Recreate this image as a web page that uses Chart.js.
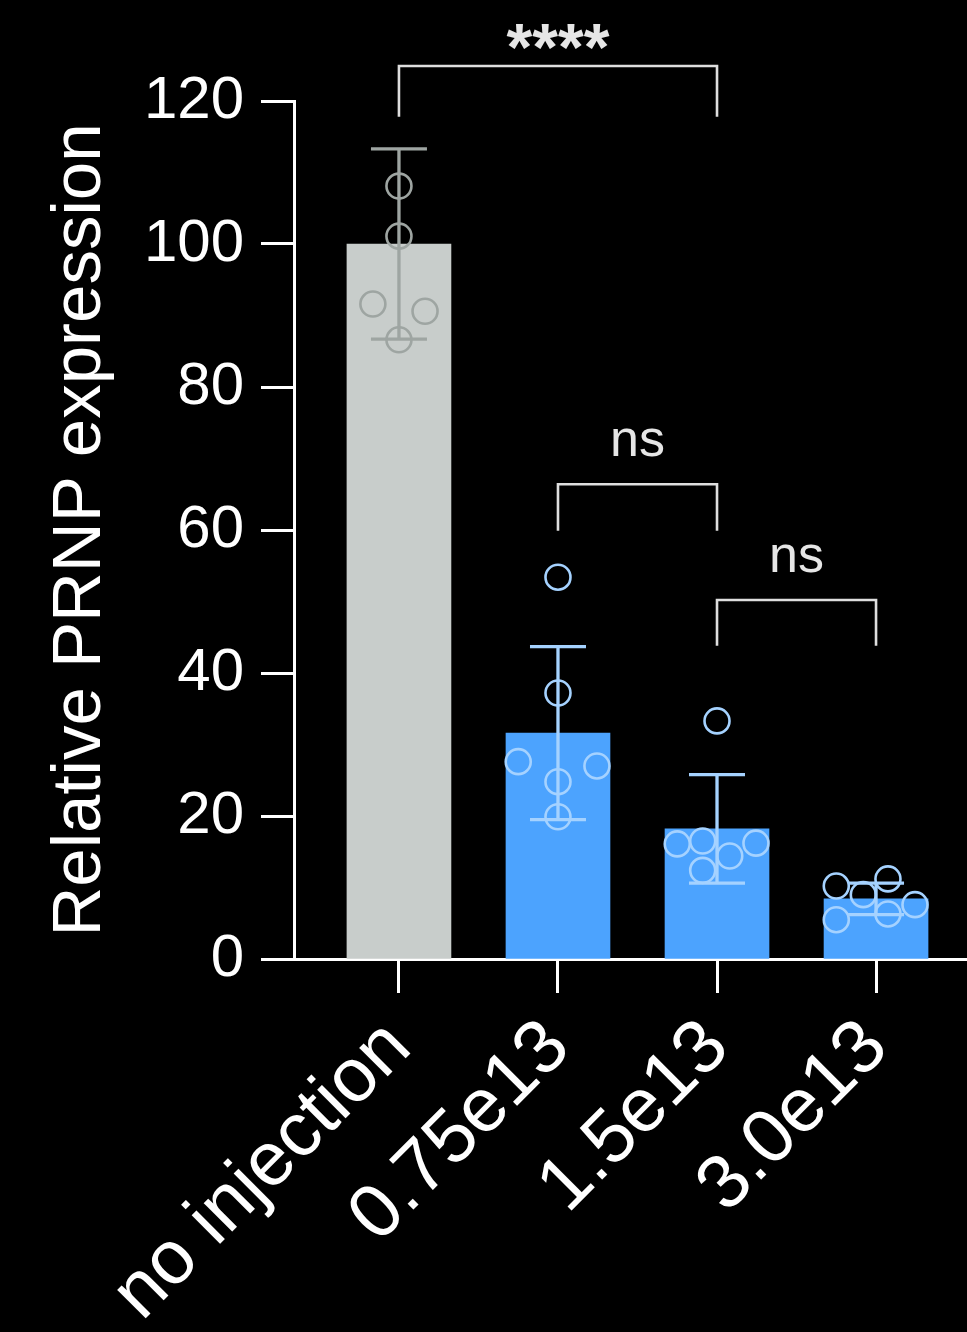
<!DOCTYPE html>
<html>
<head>
<meta charset="utf-8">
<script src="https://cdn.jsdelivr.net/npm/chart.js@4.4.1/dist/chart.umd.min.js"></script>
<style>
  html, body { margin: 0; padding: 0; background: #000; }
  #wrap { width: 967px; height: 1332px; position: relative; }
</style>
</head>
<body>
<div id="wrap"><canvas id="c" width="967" height="1332"></canvas></div>
<script>
// Groups on the x axis
const categories = ['no injection', '0.75e13', '1.5e13', '3.0e13'];

// Group means and standard deviations (relative PRNP expression, %)
const means = [100, 31.6, 18.2, 8.4];
const sds = [13.3, 12.1, 7.6, 2.2];

// Individual replicates per group
const noInjection = [108.1, 101.1, 91.6, 90.6, 86.6];
const dose075 = [53.4, 37.2, 27.6, 27.0, 24.8, 19.9];
const dose15 = [33.3, 16.1, 16.5, 16.2, 14.4, 12.4];
const dose30 = [10.2, 9.0, 11.2, 7.6, 6.3, 5.5];
const replicates = [noInjection, dose075, dose15, dose30];

// Horizontal spread of the replicate dots (fraction of a category step)
const dotSpread = [
  [0, 0, -0.164, 0.164, 0],
  [0, 0, -0.25, 0.245, 0, 0],
  [0, -0.25, -0.09, 0.245, 0.08, -0.09],
  [-0.25, -0.08, 0.075, 0.245, 0.075, -0.25]
];

// Significance comparisons: [from group, to group, label]
const comparisons = [
  [0, 2, '****'],
  [1, 2, 'ns'],
  [2, 3, 'ns']
];
// Bracket heights in axis units: [bar level, leg end, label baseline]
const bracketLevels = [
  [124.9, 117.8, 124.4],
  [66.4, 59.9, 70.3],
  [50.2, 43.8, 54.1]
];

const FONT = '"Liberation Sans", Arial, Helvetica, sans-serif';
const barFill = ['#c8cdcb', '#4ca3fe', '#4ca3fe', '#4ca3fe'];
const markColor = ['#9ea5a2', '#a5d2ff', '#a5d2ff', '#a5d2ff'];

const dotData = [];
const dotColors = [];
replicates.forEach((vals, g) => {
  vals.forEach((v, k) => {
    dotData.push({ x: g + dotSpread[g][k], y: v });
    dotColors.push(markColor[g]);
  });
});

const errorBars = {
  id: 'errorBars',
  afterDatasetDraw(chart, args) {
    if (args.index !== 0) return;
    const { ctx, scales: { x, y } } = chart;
    ctx.save();
    ctx.lineWidth = 3.3;
    ctx.lineCap = 'butt';
    means.forEach((m, i) => {
      const px = x.getPixelForValue(i);
      const top = y.getPixelForValue(m + sds[i]);
      const bot = y.getPixelForValue(m - sds[i]);
      const half = 28;
      ctx.strokeStyle = markColor[i];
      ctx.beginPath();
      ctx.moveTo(px, top); ctx.lineTo(px, bot);
      ctx.moveTo(px - half, top); ctx.lineTo(px + half, top);
      ctx.moveTo(px - half, bot); ctx.lineTo(px + half, bot);
      ctx.stroke();
    });
    ctx.restore();
  }
};

const brackets = {
  id: 'brackets',
  afterDraw(chart) {
    const { ctx, scales: { x, y } } = chart;
    ctx.save();
    ctx.strokeStyle = '#dedede';
    ctx.fillStyle = '#e6e6e6';
    ctx.lineWidth = 2.6;
    comparisons.forEach(([a, b, label], i) => {
      const [lvl, leg, base] = bracketLevels[i];
      const x1 = x.getPixelForValue(a);
      const x2 = x.getPixelForValue(b);
      const yl = y.getPixelForValue(lvl);
      const yg = y.getPixelForValue(leg);
      ctx.beginPath();
      ctx.moveTo(x1, yg); ctx.lineTo(x1, yl); ctx.lineTo(x2, yl); ctx.lineTo(x2, yg);
      ctx.stroke();
      ctx.textAlign = 'center';
      ctx.textBaseline = 'alphabetic';
      ctx.font = label === 'ns' ? '52px ' + FONT : 'bold 66px ' + FONT;
      ctx.fillText(label, (x1 + x2) / 2, y.getPixelForValue(base));
    });
    ctx.restore();
  }
};

new Chart(document.getElementById('c'), {
  type: 'bar',
  data: {
    datasets: [
      {
        type: 'bar',
        data: means.map((m, i) => ({ x: i, y: m })),
        backgroundColor: barFill,
        borderWidth: 0,
        barThickness: 104,
        order: 2
      },
      {
        type: 'scatter',
        data: dotData,
        pointRadius: 12.5,
        pointBorderWidth: 2.6,
        pointBackgroundColor: 'rgba(0,0,0,0)',
        pointBorderColor: dotColors,
        order: 1
      }
    ]
  },
  options: {
    responsive: false,
    animation: false,
    layout: { autoPadding: false, padding: { top: 101, right: 0, bottom: 0, left: 0 } },
    plugins: { legend: { display: false }, tooltip: { enabled: false } },
    scales: {
      x: {
        type: 'linear',
        offset: false,
        min: -0.66,
        max: 3.572,
        afterBuildTicks: (s) => { s.ticks = categories.map((_, i) => ({ value: i })); },
        afterFit: (s) => { s.height = 373; s.paddingRight = 0; },
        ticks: {
          autoSkip: false,
          minRotation: 45,
          maxRotation: 45,
          color: '#ffffff',
          padding: 10,
          font: { family: FONT, size: 76 },
          callback: (v) => categories[v]
        },
        grid: { offset: false, drawOnChartArea: false, tickLength: 34, tickWidth: 3, tickColor: '#ffffff' },
        border: { color: '#ffffff', width: 3 }
      },
      y: {
        min: 0,
        max: 120,
        afterFit: (s) => { s.width = 294; },
        ticks: { stepSize: 20, color: '#ffffff', padding: 17, font: { family: FONT, size: 60 } },
        grid: { drawOnChartArea: false, tickLength: 33, tickWidth: 3, tickColor: '#ffffff' },
        border: { color: '#ffffff', width: 3 },
        title: {
          display: true,
          text: 'Relative PRNP expression',
          color: '#ffffff',
          font: { family: FONT, size: 69 },
          padding: { top: 40, bottom: 0 }
        }
      }
    }
  },
  plugins: [errorBars, brackets]
});
</script>
</body>
</html>
